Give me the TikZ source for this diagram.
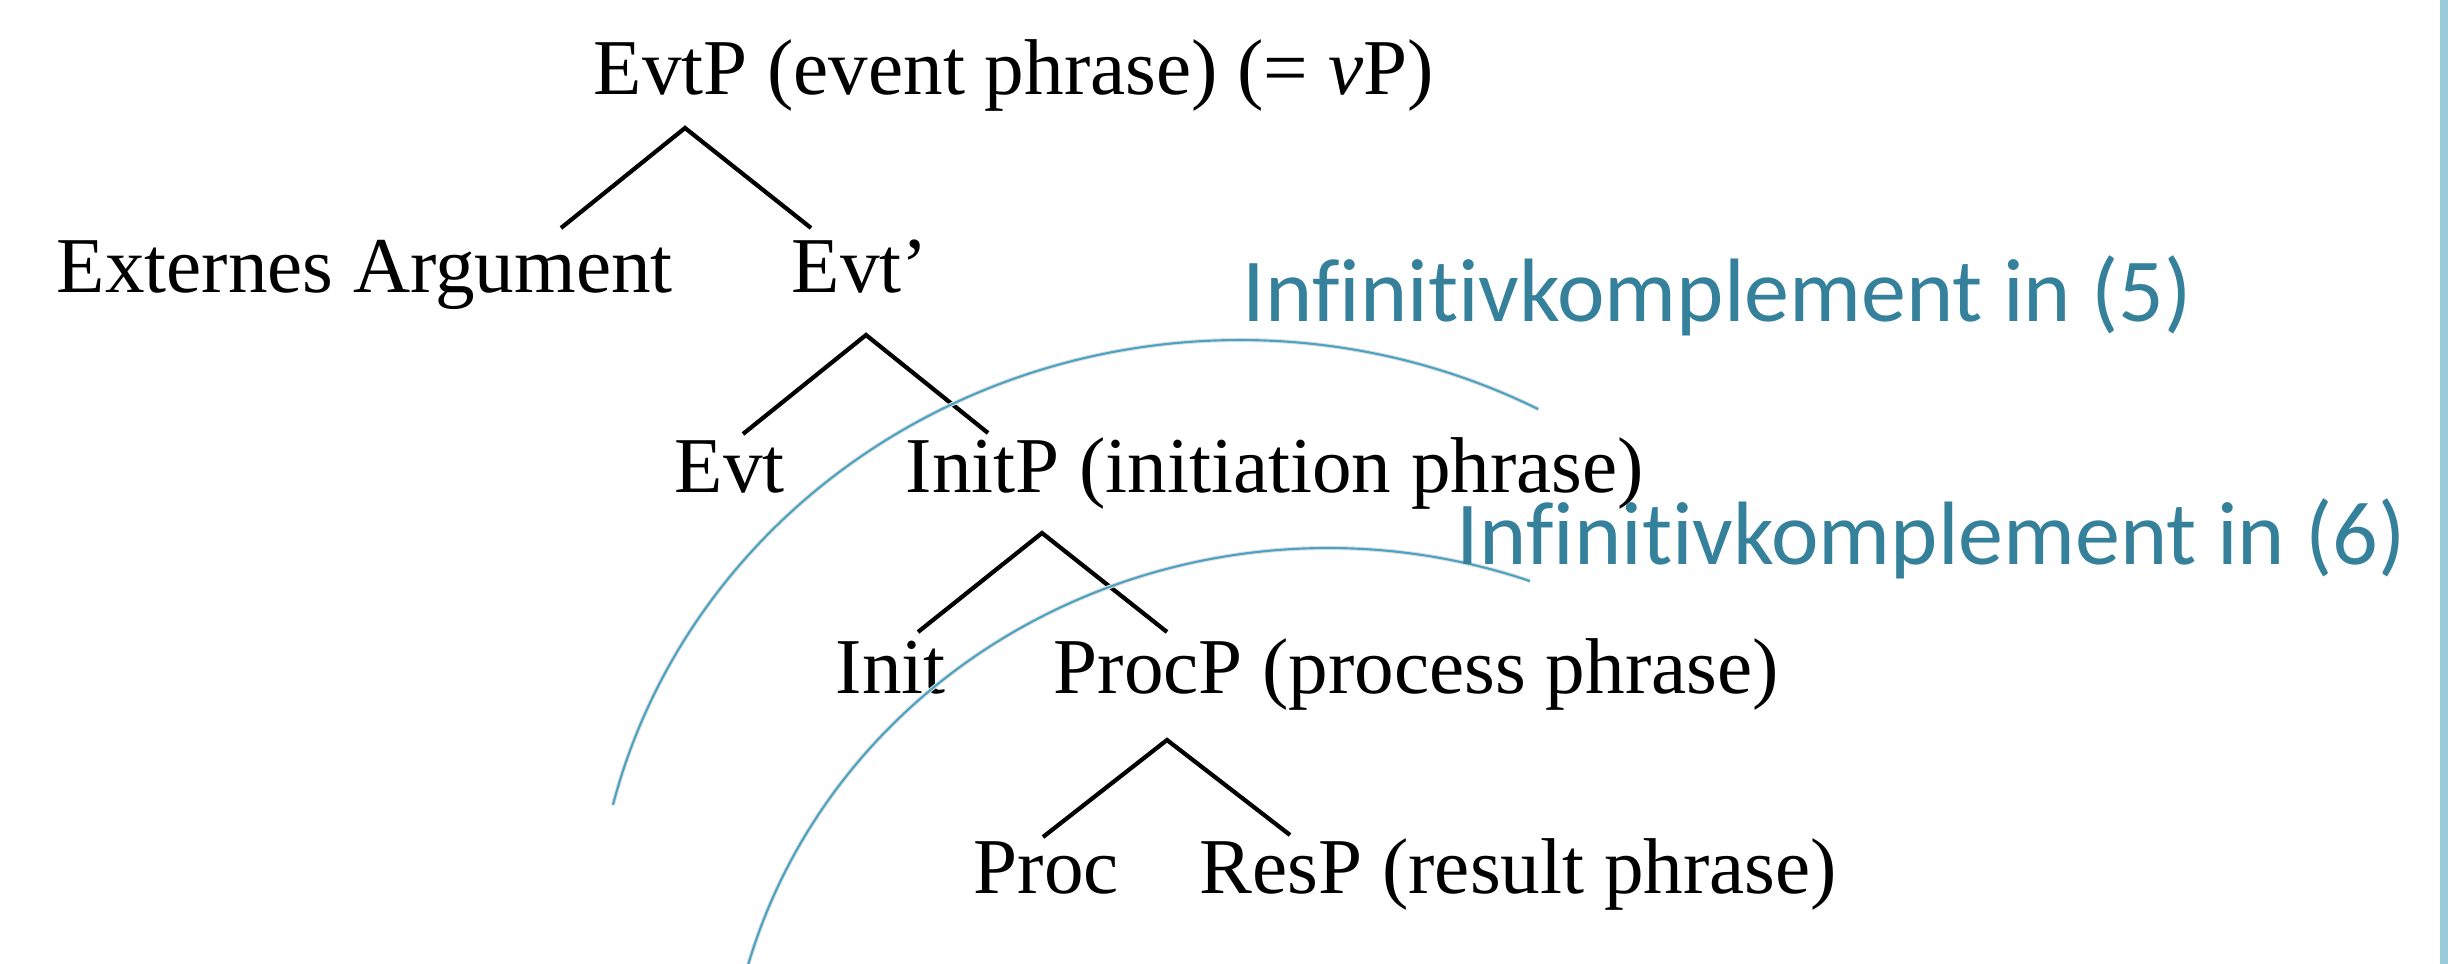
\documentclass[tikz,border=0pt]{standalone}
\usepackage{fontspec}
\setmainfont{Liberation Serif}
\newfontfamily\labelfont[Ligatures=NoCommon]{Carlito}
\definecolor{labelblue}{HTML}{35809A}
\definecolor{arcblue}{HTML}{4BA3C3}
\definecolor{barblue}{HTML}{9ACBDB}
\begin{document}
\begin{tikzpicture}[
        x=0.01cm, y=0.01cm,
        every node/.style={inner sep=0pt, anchor=base west, font=\fontsize{22.5}{27}\selectfont},
        infl/.style={text=labelblue, font=\labelfont\fontsize{25.6}{30}\selectfont},
        br/.style={line width=1.2pt, line join=miter},
        arcln/.style={arcblue, line width=0.6pt},
        arcshade/.style={black!12, line width=1.2pt, shift={(1,-3)}},
    ]
    \useasboundingbox (0,0) rectangle (2448,-964);
    \clip (0,0) rectangle (2448,-964);
    \fill[barblue] (2440,0) rectangle (2448,-964);

    \node(evtp) at (593,-95) {EvtP (event phrase) (= \textit{v}P)};
    \node(extarg) at (56,-293) {Externes Argument};
    \node(evtbar) at (791,-293) {Evt’};
    \node(evt) at (674,-493) {Evt};
    \node(initp) at (905,-493) {InitP (initiation phrase)};
    \node(init) at (835,-693) {Init};
    \node(procp) at (1053,-693) {ProcP (process phrase)};
    \node(proc) at (973,-893) {Proc};
    \node(resp) at (1199,-893) {ResP (result phrase)};

    \coordinate (t1) at (685,-128);
    \coordinate (t1l) at (561,-228);
    \coordinate (t1r) at (811,-228);
    \coordinate (t2) at (866,-335);
    \coordinate (t2l) at (743,-434);
    \coordinate (t2r) at (988,-433);
    \coordinate (t3) at (1042,-533);
    \coordinate (t3l) at (918,-632);
    \coordinate (t3r) at (1167,-632);
    \coordinate (t4) at (1167,-740);
    \coordinate (t4l) at (1043,-837);
    \coordinate (t4r) at (1290,-835);

    \draw[br] (t1l) -- (t1) -- (t1r);
    \draw[br] (t2l) -- (t2) -- (t2r);
    \draw[br] (t3l) -- (t3) -- (t3r);
    \draw[br] (t4l) -- (t4) -- (t4r);

    \coordinate (c5) at (1240,-952);
    \coordinate (c6) at (1328,-1118);
    \draw[arcshade] (c5) ++(62.5:646 and 612)
        arc[start angle=62.5, end angle=166.1, x radius=646, y radius=612];
    \draw[arcshade] (c6) ++(70.4:602 and 570)
        arc[start angle=70.4, end angle=168, x radius=602, y radius=570];
    \draw[arcln] (c5) ++(62.5:646 and 612)
        arc[start angle=62.5, end angle=166.1, x radius=646, y radius=612];
    \draw[arcln] (c6) ++(70.4:602 and 570)
        arc[start angle=70.4, end angle=168, x radius=602, y radius=570];

    \node[infl](inf5) at (1242,-322) {Infinitivkomplement in (5)};
    \node[infl](inf6) at (1456,-564) {Infinitivkomplement in (6)};
\end{tikzpicture}
\end{document}
